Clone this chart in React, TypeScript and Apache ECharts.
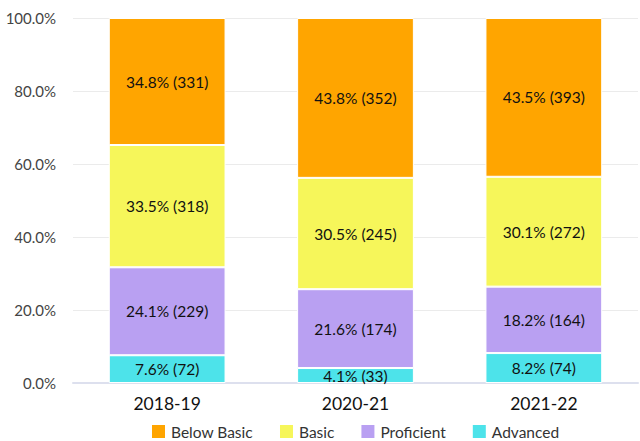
import React, { useEffect, useRef } from "react";
import * as echarts from "echarts";

const categories = ["2018-19", "2020-21", "2021-22"];
const seriesNames = ["Advanced", "Proficient", "Basic", "Below Basic"];
const advancedPct = [7.6, 4.1, 8.2];
const advancedCount = [72, 33, 74];
const proficientPct = [24.1, 21.6, 18.2];
const proficientCount = [229, 174, 164];
const basicPct = [33.5, 30.5, 30.1];
const basicCount = [318, 245, 272];
const belowBasicPct = [34.8, 43.8, 43.5];
const belowBasicCount = [331, 352, 393];
const colors = ["#4de3ea", "#b9a0f2", "#f6f65a", "#ffa500"];
const legendOrder = ["Below Basic", "Basic", "Proficient", "Advanced"];

export default function App() {
  const ref = useRef<HTMLDivElement>(null);
  useEffect(() => {
    if (!ref.current) return;
    const chart = echarts.init(ref.current, null, { renderer: "svg" });
    const pcts = [advancedPct, proficientPct, basicPct, belowBasicPct];
    const counts = [advancedCount, proficientCount, basicCount, belowBasicCount];
    chart.setOption({
      animation: false,
      textStyle: { fontFamily: "Lato" },
      grid: { left: 73, right: 2, top: 18, bottom: 58 },
      legend: {
        data: legendOrder,
        top: 423,
        left: 150,
        padding: 0,
        itemWidth: 15,
        itemHeight: 15,
        itemGap: 25,
        icon: "rect",
        textStyle: { fontFamily: "Lato", fontSize: 15.5, color: "#333" },
      },
      xAxis: {
        type: "category",
        data: categories,
        axisTick: { show: false },
        axisLine: { lineStyle: { color: "#dde0ee", width: 2 } },
        axisLabel: { fontFamily: "Lato", fontSize: 17.5, color: "#111", margin: 11 },
      },
      yAxis: {
        type: "value",
        min: 0,
        max: 100,
        interval: 20,
        axisLabel: {
          fontFamily: "Lato",
          fontSize: 15,
          color: "#444",
          margin: 17,
          formatter: (v: number) => v.toFixed(1) + "%",
        },
        splitLine: { lineStyle: { color: "#ebebeb" } },
      },
      series: seriesNames.map((name, i) => ({
        name,
        type: "bar",
        stack: "total",
        barWidth: "62%",
        itemStyle: { color: colors[i], borderColor: "#fff", borderWidth: 1 },
        label: {
          show: true,
          position: "inside",
          fontFamily: "Lato",
          fontSize: 15.5,
          color: "#111",
          formatter: (p: any) => `${pcts[i][p.dataIndex].toFixed(1)}% (${counts[i][p.dataIndex]})`,
        },
        data: pcts[i],
      })),
    });
    return () => chart.dispose();
  }, []);
  return <div ref={ref} style={{ width: 640, height: 441, position: "absolute", left: 0, top: 0 }} />;
}
